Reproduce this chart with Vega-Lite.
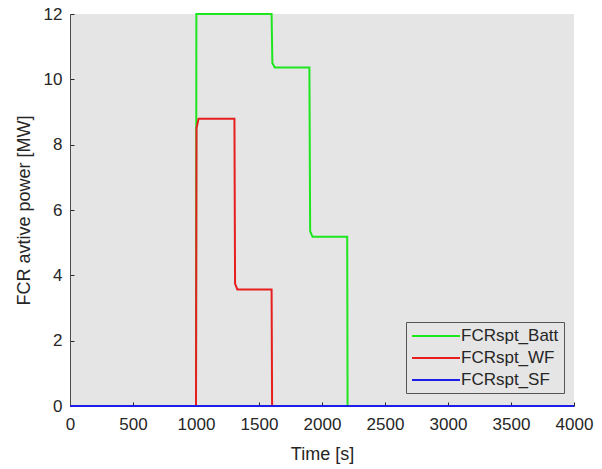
{
  "$schema": "https://vega.github.io/schema/vega-lite/v6.json",
  "autosize": "none",
  "width": 504,
  "height": 392,
  "padding": {"left": 70, "top": 14, "right": 28, "bottom": 63},
  "background": "white",
  "config": {
    "view": {"stroke": null, "fill": "#e5e5e5"},
    "font": "Liberation Sans",
    "axis": {
      "grid": false,
      "domainColor": "#4d4d4d",
      "domainWidth": 1,
      "tickColor": "#262626",
      "tickSize": -4,
      "labelFlush": false,
      "labelOverlap": false,
      "labelFont": "Liberation Sans",
      "labelFontSize": 17,
      "labelColor": "#262626",
      "titleFont": "Liberation Sans",
      "titleFontSize": 18,
      "titleFontWeight": "normal",
      "titleColor": "#262626"
    }
  },
  "data": {
    "values": [
      {"t": 0, "p": 0, "s": "FCRspt_Batt"},
      {"t": 1000, "p": 0, "s": "FCRspt_Batt"},
      {"t": 1003, "p": 12, "s": "FCRspt_Batt"},
      {"t": 1600, "p": 12, "s": "FCRspt_Batt"},
      {"t": 1606, "p": 10.5, "s": "FCRspt_Batt"},
      {"t": 1625, "p": 10.36, "s": "FCRspt_Batt"},
      {"t": 1900, "p": 10.36, "s": "FCRspt_Batt"},
      {"t": 1906, "p": 5.35, "s": "FCRspt_Batt"},
      {"t": 1925, "p": 5.18, "s": "FCRspt_Batt"},
      {"t": 2200, "p": 5.18, "s": "FCRspt_Batt"},
      {"t": 2203, "p": 0, "s": "FCRspt_Batt"},
      {"t": 4000, "p": 0, "s": "FCRspt_Batt"},
      {"t": 0, "p": 0, "s": "FCRspt_WF"},
      {"t": 1000, "p": 0, "s": "FCRspt_WF"},
      {"t": 1004, "p": 8.5, "s": "FCRspt_WF"},
      {"t": 1020, "p": 8.79, "s": "FCRspt_WF"},
      {"t": 1305, "p": 8.79, "s": "FCRspt_WF"},
      {"t": 1310, "p": 3.75, "s": "FCRspt_WF"},
      {"t": 1328, "p": 3.57, "s": "FCRspt_WF"},
      {"t": 1600, "p": 3.57, "s": "FCRspt_WF"},
      {"t": 1604, "p": 0, "s": "FCRspt_WF"},
      {"t": 4000, "p": 0, "s": "FCRspt_WF"},
      {"t": 0, "p": 0, "s": "FCRspt_SF"},
      {"t": 4000, "p": 0, "s": "FCRspt_SF"}
    ]
  },
  "mark": {"type": "line", "strokeWidth": 2, "clip": false},
  "encoding": {
    "x": {
      "field": "t", "type": "quantitative", "title": "Time [s]",
      "scale": {"domain": [0, 4000], "nice": false},
      "axis": {"values": [0, 500, 1000, 1500, 2000, 2500, 3000, 3500, 4000], "format": "d", "labelPadding": 14, "titlePadding": 13}
    },
    "y": {
      "field": "p", "type": "quantitative", "title": "FCR avtive power [MW]",
      "scale": {"domain": [0, 12], "nice": false},
      "axis": {"values": [0, 2, 4, 6, 8, 10, 12], "format": "d", "labelPadding": 12, "titlePadding": 10}
    },
    "color": {
      "field": "s", "type": "nominal",
      "scale": {"domain": ["FCRspt_Batt", "FCRspt_WF", "FCRspt_SF"], "range": ["#1ee61e", "#e61e1e", "#1e1ee6"]},
      "legend": {
        "title": null,
        "orient": "none",
        "legendX": 336,
        "legendY": 308,
        "symbolType": "M-1,0H5",
        "symbolSize": 256,
        "symbolStrokeWidth": 2,
        "labelFont": "Liberation Sans",
        "labelFontSize": 17,
        "labelColor": "#262626",
        "rowPadding": 5,
        "padding": 5,
        "strokeColor": "#555555",
        "fillColor": "#e5e5e5",
        "labelOffset": 32
      }
    },
    "order": {"field": "s"}
  }
}
